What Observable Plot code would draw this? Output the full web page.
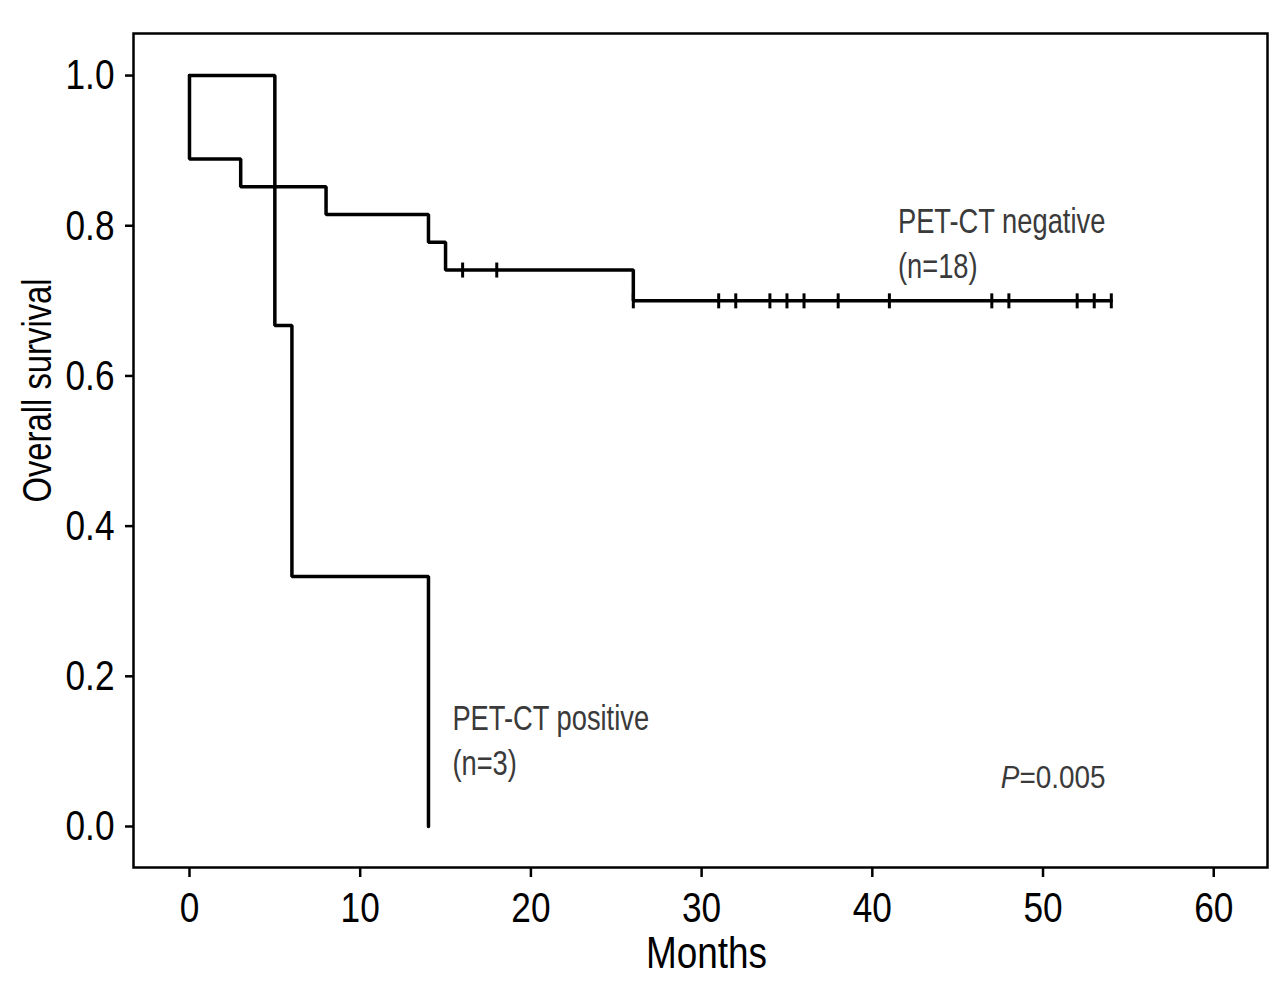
<!DOCTYPE html>
<html><head><meta charset="utf-8">
<script src="https://cdn.jsdelivr.net/npm/d3@7"></script>
<script src="https://cdn.jsdelivr.net/npm/@observablehq/plot@0.6"></script>
<style>body{margin:0;background:#fff}</style>
</head><body><div id="chart"></div>
<script>
// Kaplan-Meier steps
const negTimes = [0, 0, 3, 8, 14, 15, 26, 54];
const negSurv = [1, 0.889, 0.852, 0.815, 0.778, 0.741, 0.700, 0.700];
const posTimes = [0, 5, 6, 14];
const posSurv = [1, 0.667, 0.333, 0];
const negCensored = [16, 18, 26, 31, 32, 34, 35, 36, 38, 41, 47, 48, 52, 53, 54];
const xTicks = [0, 10, 20, 30, 40, 50, 60];
const yTicks = [0, 0.2, 0.4, 0.6, 0.8, 1.0];
const negLabel = ["PET-CT negative", "(n=18)"];
const posLabel = ["PET-CT positive", "(n=3)"];
const pLabel = "P=0.005";
const xLabel = "Months";
const yLabel = "Overall survival";

function survAt(t) {
  let s = negSurv[0];
  for (let i = 0; i < negTimes.length; i++) if (negTimes[i] <= t) s = negSurv[i];
  return s;
}
const negData = negTimes.map((t, i) => ({t, s: negSurv[i]}));
const posData = posTimes.map((t, i) => ({t, s: posSurv[i]}));
const censData = negCensored.map(t => ({t, s: survAt(t)}));

const vbar = {draw(ctx) { ctx.moveTo(0, -7.5); ctx.lineTo(0, 7.5); }};
const FONT = "'Liberation Sans', Arial, sans-serif";
const annot = {textAnchor: "start", lineAnchor: "top", fontSize: 35, fill: "#3a3a3a", className: "annot"};

const chart = Plot.plot({
  width: 1280, height: 981,
  marginLeft: 133, marginRight: 13, marginTop: 33, marginBottom: 114,
  style: {fontFamily: FONT, background: "white", color: "black"},
  x: {domain: [-3.28, 63.15]},
  y: {domain: [-0.0546, 1.056]},
  marks: [
    Plot.axisX({ticks: xTicks, tickFormat: d => String(d), tickSize: 10, tickPadding: 14, fontSize: 43, label: null, strokeWidth: 2.5}),
    Plot.axisY({ticks: yTicks, tickFormat: d => d.toFixed(1), tickSize: 8, tickPadding: 11, fontSize: 43, label: null, strokeWidth: 2.5}),
    Plot.frame({stroke: "black", strokeWidth: 2.5}),
    Plot.line(posData, {x: "t", y: "s", curve: "step-after", stroke: "black", strokeWidth: 3.5, strokeLinejoin: "miter"}),
    Plot.line(negData, {x: "t", y: "s", curve: "step-after", stroke: "black", strokeWidth: 3.5, strokeLinejoin: "miter"}),
    Plot.dot(censData, {x: "t", y: "s", symbol: vbar, fill: "none", stroke: "black", strokeWidth: 3}),
    Plot.text([negLabel[0]], {x: 41.5, y: 0.824, ...annot}),
    Plot.text([negLabel[1]], {x: 41.5, y: 0.824, dy: 45, ...annot}),
    Plot.text([posLabel[0]], {x: 15.4, y: 0.161, ...annot}),
    Plot.text([posLabel[1]], {x: 15.4, y: 0.161, dy: 45, ...annot}),
    Plot.text([pLabel], {x: 53.66, y: 0.081, textAnchor: "end", lineAnchor: "top", fontSize: 31, fill: "#3a3a3a", className: "pval"}),
    Plot.text([xLabel], {frameAnchor: "bottom", lineAnchor: "middle", textAnchor: "middle", dy: 86, dx: 6, fontSize: 45}),
    Plot.text([yLabel], {frameAnchor: "left", lineAnchor: "middle", textAnchor: "middle", rotate: -90, dx: -95, dy: -60, fontSize: 40})
  ]
});
document.getElementById("chart").appendChild(chart);
d3.select(chart).selectAll("g.pval text").each(function() {
  const t = d3.select(this);
  const txt = t.text();
  t.text(null);
  t.append("tspan").attr("font-style", "italic").text(txt.slice(0, 1));
  t.append("tspan").text(txt.slice(1));
});
// condensed look: compress glyphs horizontally
d3.select(chart).selectAll("text").each(function() {
  const g = this.closest("g");
  let f = 0.82;
  if (g && g.classList.contains("annot")) f = 0.78;
  if (g && g.classList.contains("pval")) f = 0.9;
  const len = this.getComputedTextLength();
  if (len > 0) {
    this.setAttribute("textLength", (len * f).toFixed(1));
    this.setAttribute("lengthAdjust", "spacingAndGlyphs");
  }
});
</script>
</body></html>
